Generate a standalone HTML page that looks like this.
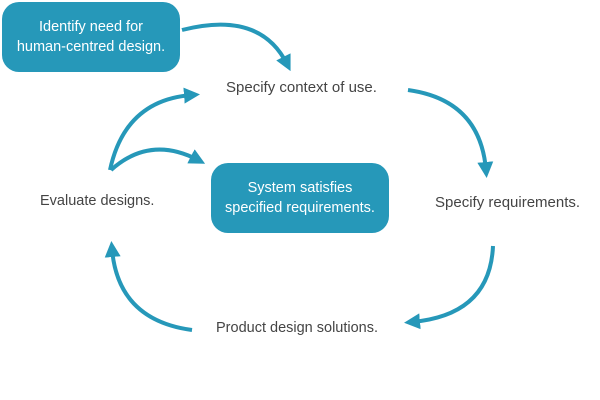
<!DOCTYPE html>
<html><head><style>
body{margin:0;background:#fff;}
.w{position:relative;width:600px;height:400px;font-family:"Liberation Sans",sans-serif;}
.b{position:absolute;background:#2698b9;color:#fff;border-radius:17px;text-align:center;font-size:14.5px;line-height:20px;display:flex;align-items:center;justify-content:center;}
.t{position:absolute;color:#444;font-size:14.5px;white-space:nowrap;}
</style></head><body><div class="w">
<svg width="600" height="400" style="position:absolute;left:0;top:0">
<defs><marker id="a" markerWidth="4" markerHeight="4" refX="2" refY="2" orient="auto" markerUnits="strokeWidth"><path d="M0,0 L4,2 L0,4 z" fill="#2698b9"/></marker></defs>
<g fill="none" stroke="#2698b9" stroke-width="4">
<path d="M182,30 Q260,10 287,64" marker-end="url(#a)"/>
<path d="M408,90 Q480,100 486,170" marker-end="url(#a)"/>
<path d="M493,246 Q490,315 412,322" marker-end="url(#a)"/>
<path d="M192,330 Q118,320 112,249" marker-end="url(#a)"/>
<path d="M110,170 Q125,100 192,95" marker-end="url(#a)"/>
<path d="M111,170 Q150,135 198,160" marker-end="url(#a)"/>
</g></svg>
<div class="b" style="left:2px;top:2px;width:178px;height:70px">Identify need for<br>human-centred design.</div>
<div class="b" style="left:211px;top:163px;width:178px;height:70px">System satisfies<br>specified requirements.</div>
<div class="t" style="left:226px;top:79px;font-size:15px">Specify context of use.</div>
<div class="t" style="left:435px;top:194px;font-size:15px">Specify requirements.</div>
<div class="t" style="left:216px;top:320px">Product design solutions.</div>
<div class="t" style="left:40px;top:193px">Evaluate designs.</div>
</div></body></html>
